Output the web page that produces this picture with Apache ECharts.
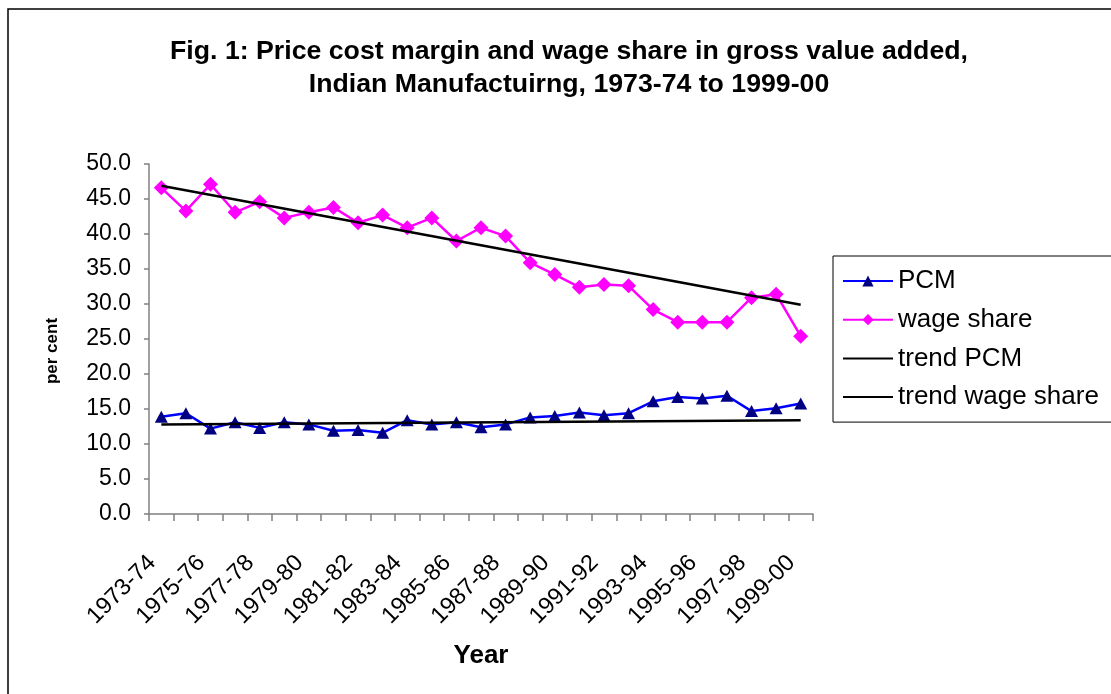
<!DOCTYPE html>
<html>
<head>
<meta charset="utf-8">
<script src="https://cdn.jsdelivr.net/npm/echarts@6/dist/echarts.min.js"></script>
<style>
html,body{margin:0;padding:0;background:#fff;}
#chart{width:1111px;height:694px;}
</style>
</head>
<body>
<div id="chart"></div>
<script>
const categories = ['1973-74','1974-75','1975-76','1976-77','1977-78','1978-79','1979-80','1980-81','1981-82','1982-83','1983-84','1984-85','1985-86','1986-87','1987-88','1988-89','1989-90','1990-91','1991-92','1992-93','1993-94','1994-95','1995-96','1996-97','1997-98','1998-99','1999-00'];
const pcm = [13.9,14.4,12.2,13.1,12.3,13.1,12.8,11.9,12.0,11.6,13.4,12.8,13.1,12.4,12.8,13.8,14.0,14.5,14.1,14.4,16.1,16.7,16.5,16.9,14.7,15.1,15.8];
const wageShare = [46.6,43.3,47.1,43.1,44.6,42.3,43.1,43.8,41.6,42.7,40.9,42.3,39.0,40.9,39.7,35.9,34.2,32.4,32.8,32.6,29.2,27.4,27.4,27.4,30.9,31.4,25.4];
const trendPCMEnds = [12.8, 13.4];
const trendWageEnds = [46.9, 29.9];
const yTicks = [0,5,10,15,20,25,30,35,40,45,50];

function endsToSeries(ends){
  return categories.map((c,i)=> i===0 ? ends[0] : (i===categories.length-1 ? ends[1] : null));
}

const FONT = "'Liberation Sans', Arial, sans-serif";
const chart = echarts.init(document.getElementById('chart'));
const hiddenSymbol = {color:'rgba(0,0,0,0)', borderWidth:0, opacity:0};
chart.setOption({
  animation:false,
  backgroundColor:'#fff',
  textStyle:{fontFamily:FONT, color:'#000'},
  graphic:[{
    type:'rect', shape:{x:8, y:9, width:1120, height:700},
    style:{fill:'none', stroke:'#000', lineWidth:1.5}, silent:true
  }],
  title:{
    text:'Fig. 1: Price cost margin and wage share in gross value added,\nIndian Manufactuirng, 1973-74 to 1999-00',
    left:564, top:30, textAlign:'center',
    textStyle:{fontFamily:FONT, fontSize:26.7, fontWeight:'bold', color:'#000', lineHeight:33}
  },
  legend:{
    orient:'vertical', left:833, top:256,
    padding:[10,30,10,9], itemGap:8.7, itemWidth:50, itemHeight:14,
    borderColor:'#000', borderWidth:1,
    textStyle:{fontFamily:FONT, fontSize:26, color:'#000', lineHeight:30},
    data:[
      {name:'PCM'},
      {name:'wage share'},
      {name:'trend PCM', itemStyle:hiddenSymbol},
      {name:'trend wage share', itemStyle:hiddenSymbol}
    ]
  },
  grid:{left:149, right:298, top:164, bottom:180, containLabel:false},
  xAxis:{
    type:'category', data:categories, boundaryGap:true,
    name:'Year', nameLocation:'middle', nameGap:129,
    nameTextStyle:{fontFamily:FONT, fontSize:26, fontWeight:'bold', color:'#000'},
    axisLine:{lineStyle:{color:'#808080', width:1.5}},
    axisTick:{show:true, interval:0, length:7, lineStyle:{color:'#808080', width:1.5}},
    axisLabel:{interval:1, rotate:45, margin:36, padding:[0,13,0,0], fontFamily:FONT, fontSize:23.5, color:'#000'},
    splitLine:{show:false}
  },
  yAxis:{
    type:'value', min:yTicks[0], max:yTicks[yTicks.length-1], interval:yTicks[1]-yTicks[0],
    name:'per cent', nameLocation:'middle', nameGap:88, nameRotate:90,
    nameTextStyle:{fontFamily:FONT, fontSize:17, fontWeight:'bold', color:'#000', padding:[0,24,0,0]},
    axisLine:{show:true, lineStyle:{color:'#808080', width:1.5}},
    axisTick:{show:true, length:5, lineStyle:{color:'#808080', width:1.5}},
    axisLabel:{margin:18, fontFamily:FONT, fontSize:23, color:'#000', formatter:v=>v.toFixed(1)},
    splitLine:{show:false}
  },
  series:[
    {name:'PCM', type:'line', data:pcm, symbol:'triangle', symbolSize:[13,12],
     lineStyle:{color:'#0000FF', width:2.5}, itemStyle:{color:'#000080'}, z:3},
    {name:'wage share', type:'line', data:wageShare, symbol:'diamond', symbolSize:15,
     lineStyle:{color:'#FF00FF', width:2.5}, itemStyle:{color:'#FF00FF'}, z:3},
    {name:'trend PCM', type:'line', data:endsToSeries(trendPCMEnds), connectNulls:true, symbol:'none',
     lineStyle:{color:'#000', width:2.5}, itemStyle:{color:'#000'}, z:4},
    {name:'trend wage share', type:'line', data:endsToSeries(trendWageEnds), connectNulls:true, symbol:'none',
     lineStyle:{color:'#000', width:2.5}, itemStyle:{color:'#000'}, z:4}
  ]
});
</script>
</body>
</html>
